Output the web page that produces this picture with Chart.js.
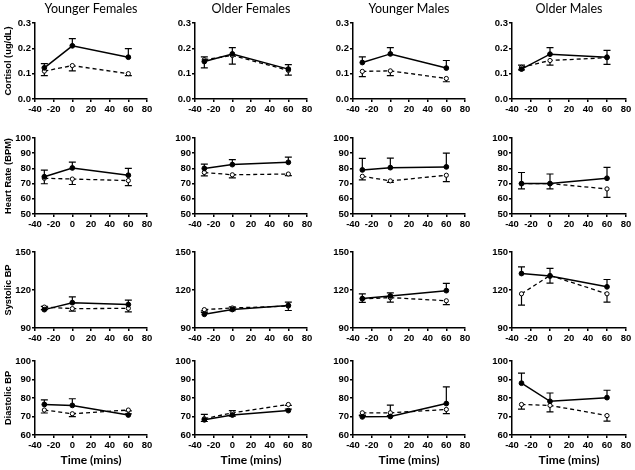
<!DOCTYPE html>
<html>
<head>
<meta charset="utf-8">
<script src="https://cdn.jsdelivr.net/npm/chart.js@4"></script>
<style>
  html, body { margin: 0; padding: 0; background: #fff; }
  #wrap { position: relative; width: 635px; height: 470px; overflow: hidden; }
  #wrap canvas { position: absolute; }
</style>
</head>
<body>
<div id="wrap"></div>
<script>
// ---- data ----
const timePoints = [-30, 0, 60];
const groupTitles = ['Younger Females', 'Older Females', 'Younger Males', 'Older Males'];
const measureTitles = ['Cortisol (ug/dL)', 'Heart Rate (BPM)', 'Systolic BP', 'Diastolic BP'];
const timeLabel = 'Time (mins)';

// y axis ticks per measure: [min, max, step]
const yTickRanges = [[0, 0.3, 0.1], [50, 100, 10], [90, 150, 30], [60, 100, 10]];
const xTickRange = [-40, 80, 20];

// solid line (filled markers), error bars drawn upward
const cortisolSolid = [[0.123, 0.210, 0.165], [0.148, 0.178, 0.118], [0.144, 0.178, 0.122], [0.118, 0.177, 0.165]];
const cortisolSolidErr = [[0.017, 0.028, 0.034], [0.018, 0.025, 0.018], [0.022, 0.025, 0.030], [0.016, 0.026, 0.027]];
const heartSolid = [[74.5, 80.3, 75.5], [80.0, 82.5, 84.0], [79.0, 80.5, 81.0], [70.0, 70.0, 73.5]];
const heartSolidErr = [[4.3, 3.8, 4.5], [2.8, 3.3, 3.4], [7.6, 6.2, 9.1], [7.3, 6.3, 7.2]];
const systolicSolid = [[104.5, 110.0, 108.5], [100.8, 104.6, 107.8], [113.2, 115.3, 119.5], [133.0, 131.0, 122.5]];
const systolicSolidErr = [[2.5, 4.5, 3.5], [1.5, 2.0, 2.6], [3.8, 2.4, 5.8], [5.3, 6.0, 5.8]];
const diastolicSolid = [[76.5, 76.0, 70.8], [68.2, 70.8, 73.2], [69.8, 70.0, 77.0], [88.0, 78.2, 80.2]];
const diastolicSolidErr = [[2.5, 3.6, 0.6], [2.9, 2.4, 0.8], [1.0, 6.2, 9.0], [5.5, 4.5, 4.0]];

// dashed line (open markers), error bars drawn downward
const cortisolDashed = [[0.110, 0.132, 0.100], [0.155, 0.172, 0.113], [0.109, 0.111, 0.081], [0.125, 0.152, 0.163]];
const cortisolDashedErr = [[0.018, 0.021, 0.008], [0.032, 0.034, 0.019], [0.021, 0.019, 0.013], [0.010, 0.018, 0.026]];
const heartDashed = [[73.5, 73.0, 72.0], [77.3, 75.8, 76.3], [74.8, 71.8, 75.5], [70.0, 70.0, 66.5]];
const heartDashedErr = [[3.6, 3.6, 3.3], [2.2, 2.0, 1.0], [2.3, 1.0, 4.2], [3.5, 3.5, 5.5]];
const systolicDashed = [[106.5, 105.3, 105.5], [104.5, 105.8, 107.3], [113.0, 114.0, 111.5], [117.0, 131.5, 117.0]];
const systolicDashedErr = [[2.0, 2.0, 2.7], [1.0, 2.2, 3.5], [2.8, 3.5, 3.0], [9.0, 6.0, 6.5]];
const diastolicDashed = [[73.5, 71.5, 73.5], [68.8, 72.0, 76.5], [72.0, 72.0, 73.8], [76.5, 76.0, 70.5]];
const diastolicDashedErr = [[1.6, 1.6, 0.5], [1.5, 1.8, 0.5], [1.5, 1.5, 2.2], [2.5, 3.5, 3.0]];

const solidRows = [cortisolSolid, heartSolid, systolicSolid, diastolicSolid];
const solidErrRows = [cortisolSolidErr, heartSolidErr, systolicSolidErr, diastolicSolidErr];
const dashedRows = [cortisolDashed, heartDashed, systolicDashed, diastolicDashed];
const dashedErrRows = [cortisolDashedErr, heartDashedErr, systolicDashedErr, diastolicDashedErr];

// ---- layout of the grid (pixels) ----
const colAxisX = [35, 195, 353, 512];
const colPlotW = [112, 112, 112, 114];
const rowPlotTop = [23, 138, 252, 361];
const rowPlotBottom = [99, 214, 328, 435];

const tickFont = { family: '"Liberation Sans", Arial, sans-serif', size: 9.5, weight: 'bold' };
const axisTitleFont = { family: '"Liberation Sans", Arial, sans-serif', size: 9.3, weight: 'bold' };

// vertical error bars with caps, drawn under the markers
const errorBars = {
    id: 'errorBars',
    beforeDatasetsDraw(chart) {
        const { ctx, scales: { x, y } } = chart;
        ctx.save();
        ctx.strokeStyle = '#000';
        ctx.lineWidth = 1.2;
        chart.data.datasets.forEach(ds => {
            ds.data.forEach((p, i) => {
                const px = x.getPixelForValue(p.x);
                const py = y.getPixelForValue(p.y);
                const pe = y.getPixelForValue(p.y + ds.errDir * ds.errors[i]);
                ctx.beginPath();
                ctx.moveTo(px, py);
                ctx.lineTo(px, pe);
                ctx.moveTo(px - 3.5, pe);
                ctx.lineTo(px + 3.5, pe);
                ctx.stroke();
            });
        });
        ctx.restore();
    }
};

function toPoints(values) {
    return values.map((v, i) => ({ x: timePoints[i], y: v }));
}

function drawPanel(r, c) {
    const leftW = c === 0 ? 35 : 36;
    const padRight = 10;
    const xAxisH = r === 3 ? 35 : 20;
    const top = r === 0 ? 0 : rowPlotTop[r] - 8;
    const width = leftW + colPlotW[c] + padRight;
    const height = rowPlotBottom[r] + xAxisH - top;

    const canvas = document.createElement('canvas');
    canvas.width = width;
    canvas.height = height;
    canvas.style.left = (colAxisX[c] - leftW) + 'px';
    canvas.style.top = top + 'px';
    document.getElementById('wrap').appendChild(canvas);

    const [ymin, ymax, ystep] = yTickRanges[r];
    const [xmin, xmax, xstep] = xTickRange;

    new Chart(canvas, {
        type: 'line',
        data: {
            datasets: [
                {
                    data: toPoints(solidRows[r][c]),
                    errors: solidErrRows[r][c],
                    errDir: 1,
                    borderColor: '#000',
                    borderWidth: 1.5,
                    pointRadius: 2.4,
                    pointBackgroundColor: '#000',
                    pointBorderColor: '#000',
                    pointBorderWidth: 1,
                    clip: false
                },
                {
                    data: toPoints(dashedRows[r][c]),
                    errors: dashedErrRows[r][c],
                    errDir: -1,
                    borderColor: '#000',
                    borderWidth: 1.3,
                    borderDash: [4, 3],
                    pointRadius: 2.1,
                    pointBackgroundColor: '#fff',
                    pointBorderColor: '#000',
                    pointBorderWidth: 1,
                    clip: false
                }
            ]
        },
        options: {
            responsive: false,
            animation: false,
            devicePixelRatio: 1,
            layout: { padding: { top: r === 0 ? 0 : 8, right: padRight, left: 0, bottom: 0 } },
            plugins: {
                legend: { display: false },
                tooltip: { enabled: false },
                title: {
                    display: r === 0,
                    text: groupTitles[c],
                    fullSize: false,
                    color: '#000',
                    font: { family: 'Lato, "Open Sans", sans-serif', size: 12.5, weight: 'normal' },
                    padding: { top: 1, bottom: 7 }
                }
            },
            scales: {
                x: {
                    type: 'linear',
                    min: xmin,
                    max: xmax,
                    afterFit: s => { s.height = xAxisH; },
                    ticks: { stepSize: xstep, color: '#000', font: tickFont, padding: 2, maxRotation: 0 },
                    grid: { drawOnChartArea: false, drawTicks: true, tickLength: 3, color: '#000', lineWidth: 1.5 },
                    border: { display: true, color: '#000', width: 1.5 },
                    title: {
                        display: r === 3,
                        text: timeLabel,
                        color: '#000',
                        font: { family: 'Lato, "Open Sans", sans-serif', size: 12, weight: 'bold' },
                        padding: { top: 0, bottom: 3 }
                    }
                },
                y: {
                    type: 'linear',
                    min: ymin,
                    max: ymax,
                    afterFit: s => { s.width = leftW; },
                    ticks: {
                        stepSize: ystep,
                        color: '#000',
                        font: tickFont,
                        padding: 1,
                        callback: v => r === 0 ? v.toFixed(1) : v
                    },
                    grid: { drawOnChartArea: false, drawTicks: true, tickLength: 3, color: '#000', lineWidth: 1.5 },
                    border: { display: true, color: '#000', width: 1.5 },
                    title: {
                        display: c === 0,
                        text: measureTitles[r],
                        color: '#000',
                        font: axisTitleFont,
                        padding: { top: 3, bottom: 0 }
                    }
                }
            }
        },
        plugins: [errorBars]
    });
}

for (let r = 0; r < 4; r++) {
    for (let c = 0; c < 4; c++) {
        drawPanel(r, c);
    }
}
</script>
</body>
</html>
